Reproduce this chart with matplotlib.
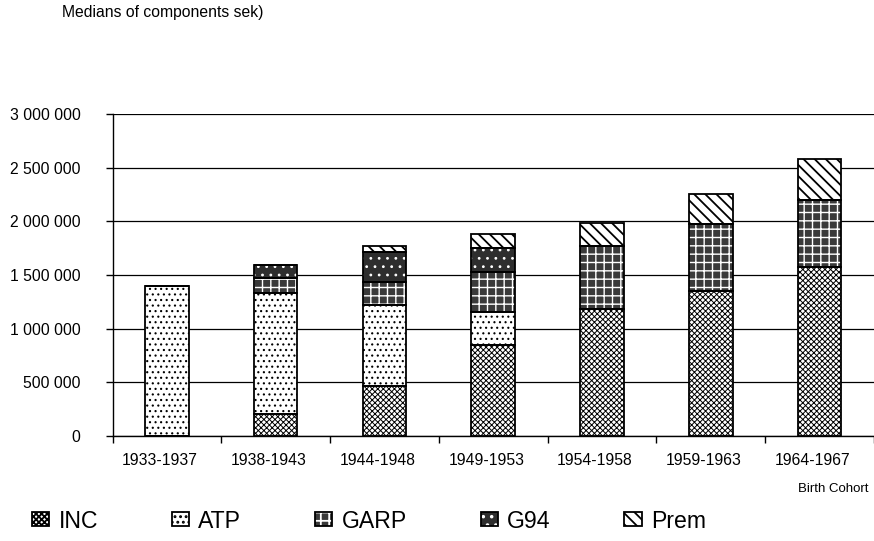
import numpy as np
import matplotlib
matplotlib.use('Agg')
import matplotlib.pyplot as plt
from matplotlib.ticker import FuncFormatter
from matplotlib.transforms import ScaledTranslation

plt.rcParams['font.family'] = ['Liberation Sans', 'DejaVu Sans']

# medians of pension components, sek
cohorts = ['1933-1937', '1938-1943', '1944-1948', '1949-1953', '1954-1958', '1959-1963', '1964-1967']
inc = [0, 205000, 469000, 848000, 1183000, 1351000, 1572000]
atp = [1395000, 1130000, 751000, 304000, 0, 0, 0]
garp = [0, 134000, 211000, 379000, 587000, 627000, 627000]
g94 = [0, 127000, 279000, 221000, 0, 0, 0]
prem = [0, 0, 59000, 130000, 211000, 277000, 379000]
names = ['INC', 'ATP', 'GARP', 'G94', 'Prem']

# face, hatch, hatch colour, hatch linewidth
styles = [('white', 'xxxxxx', 'black', 0.7),
          ('white', '...', 'black', 0.8),
          ('#3a3a3a', '++', 'white', 1.0),
          ('#2e2e2e', '..', 'white', 0.8),
          ('white', '\\\\\\', 'black', 1.3)]

fig = plt.figure(figsize=(8.74, 5.41), dpi=100)
ax = fig.add_axes([112.5 / 874, 1 - 436 / 541, 1 - 112.5 / 874, 322 / 541])

x = np.arange(len(cohorts))
bottom = np.zeros(len(cohorts))
handles = []
for vals, (face, hatch, hcol, hlw) in zip([inc, atp, garp, g94, prem], styles):
    vals = np.array(vals, dtype=float)
    plt.rcParams['hatch.linewidth'] = hlw
    b1 = ax.bar(x, vals, 0.4, bottom=bottom, color=face, hatch=hatch, edgecolor=hcol, linewidth=0, zorder=2)
    for p in b1:
        if hasattr(p, 'set_hatch_linewidth'):
            p.set_hatch_linewidth(hlw)
    b2 = ax.bar(x, vals, 0.4, bottom=bottom, fill=False, edgecolor='black', linewidth=1.3, zorder=3)
    handles.append((b1[0], b2[0]))
    bottom += vals

ax.set_ylim(0, 3000000)
ax.set_xlim(-0.5, 6.5)
ax.set_yticks(np.arange(0, 3000001, 500000))
ax.yaxis.set_major_formatter(FuncFormatter(lambda v, p: f'{int(v):,}'.replace(',', ' ')))
ax.tick_params(axis='y', length=5, width=1, pad=18, labelsize=11.3)
ax.yaxis.grid(True, color='black', linewidth=0.9)
ax.set_axisbelow(True)

ax.set_xticks(x)
ax.set_xticklabels(cohorts)
ax.set_xticks(np.arange(-0.5, 7), minor=True)
ax.tick_params(axis='x', which='major', length=0, pad=12, labelsize=11.3)
ax.tick_params(axis='x', which='minor', length=5, width=1)
for lbl in ax.get_xticklabels():
    lbl.set_transform(lbl.get_transform() + ScaledTranslation(-7 / 100, 0, fig.dpi_scale_trans))

for s in ['top', 'right']:
    ax.spines[s].set_visible(False)
for s in ['left', 'bottom']:
    ax.spines[s].set_linewidth(1)

fig.text(62 / 874, 1 - 13 / 541, 'Medians of components sek)', ha='left', va='center', fontsize=11.3)
fig.text(869 / 874, 1 - 489 / 541, 'Birth Cohort', ha='right', va='center', fontsize=9.5)

fig.legend(handles, names, loc='center left', bbox_to_anchor=(32 / 874, 1 - 521 / 541), ncol=5,
           frameon=False, fontsize=16.6, handlelength=0.75, handleheight=0.55, handletextpad=0.4,
           columnspacing=3.2, borderpad=0, borderaxespad=0)

plt.savefig('out.png', dpi=100)
